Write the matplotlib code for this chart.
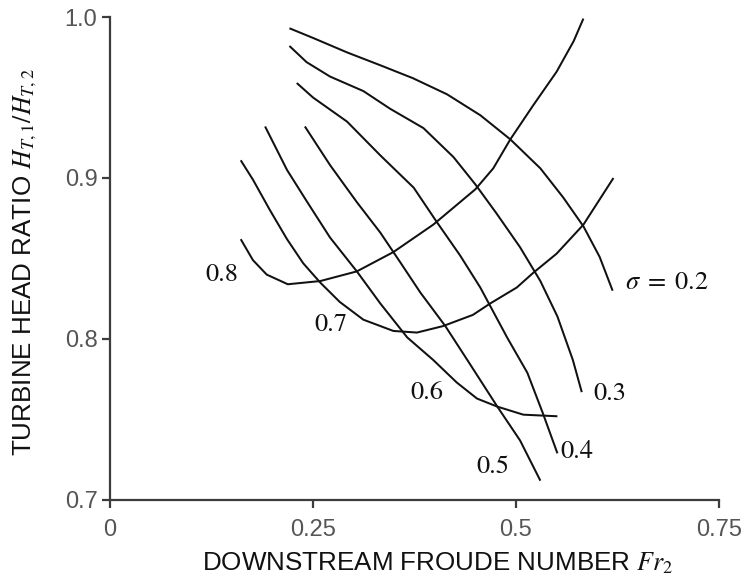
import matplotlib
matplotlib.use("Agg")
import matplotlib.pyplot as plt

plt.rcParams['mathtext.fontset'] = 'stix'

# ---- data ----
s02_x = [0.221, 0.250, 0.292, 0.333, 0.373, 0.415, 0.456, 0.493, 0.530, 0.558, 0.583, 0.603, 0.619]
s02_y = [0.993, 0.987, 0.978, 0.970, 0.962, 0.952, 0.939, 0.924, 0.906, 0.888, 0.870, 0.851, 0.830]

s03_x = [0.221, 0.242, 0.271, 0.312, 0.345, 0.386, 0.423, 0.450, 0.476, 0.505, 0.530, 0.551, 0.570, 0.581]
s03_y = [0.982, 0.972, 0.963, 0.954, 0.943, 0.931, 0.913, 0.896, 0.878, 0.857, 0.836, 0.814, 0.787, 0.767]

s04_x = [0.230, 0.250, 0.292, 0.333, 0.374, 0.402, 0.431, 0.456, 0.489, 0.514, 0.533, 0.551]
s04_y = [0.959, 0.950, 0.935, 0.914, 0.894, 0.873, 0.852, 0.832, 0.801, 0.779, 0.754, 0.729]

s05_x = [0.240, 0.271, 0.304, 0.333, 0.357, 0.382, 0.413, 0.440, 0.477, 0.505, 0.530]
s05_y = [0.932, 0.908, 0.885, 0.866, 0.848, 0.829, 0.808, 0.787, 0.758, 0.737, 0.712]

c06_x = [0.191, 0.218, 0.243, 0.271, 0.304, 0.333, 0.366, 0.398, 0.427, 0.452, 0.477, 0.509, 0.551]
c06_y = [0.932, 0.905, 0.885, 0.863, 0.842, 0.822, 0.801, 0.787, 0.773, 0.763, 0.758, 0.753, 0.752]

c07_x = [0.161, 0.176, 0.197, 0.218, 0.238, 0.259, 0.283, 0.312, 0.349, 0.378, 0.410,
         0.447, 0.468, 0.501, 0.521, 0.550, 0.583, 0.620]
c07_y = [0.911, 0.899, 0.880, 0.862, 0.847, 0.835, 0.823, 0.812, 0.805, 0.804, 0.808,
         0.815, 0.822, 0.832, 0.841, 0.853, 0.871, 0.900]

c08_x = [0.161, 0.176, 0.193, 0.219, 0.259, 0.304, 0.349, 0.398, 0.450, 0.472, 0.493,
         0.521, 0.550, 0.571, 0.583]
c08_y = [0.862, 0.849, 0.840, 0.834, 0.836, 0.842, 0.854, 0.871, 0.893, 0.906, 0.924,
         0.945, 0.966, 0.985, 0.999]

curves = [(s02_x, s02_y), (s03_x, s03_y), (s04_x, s04_y), (s05_x, s05_y),
          (c06_x, c06_y), (c07_x, c07_y), (c08_x, c08_y)]

label_texts = [r'$\sigma\;=\;0.2$', '0.3', '0.4', '0.5', '0.6', '0.7', '0.8']
label_x = [0.686, 0.616, 0.575, 0.472, 0.390, 0.272, 0.138]
label_y = [0.835, 0.766, 0.730, 0.7205, 0.7665, 0.809, 0.840]

x_ticks = [0, 0.25, 0.5, 0.75]
x_tick_labels = ['0', '0.25', '0.5', '0.75']
y_ticks = [0.7, 0.8, 0.9, 1.0]
y_tick_labels = ['0.7', '0.8', '0.9', '1.0']

# ---- figure ----
fig = plt.figure(figsize=(7.45, 5.84), dpi=100)
ax = fig.add_axes([110/745, 84/584, 609/745, 483/584])

for cx, cy in curves:
    ax.plot(cx, cy, color='#111111', lw=1.45, solid_capstyle='butt', solid_joinstyle='round')

for t, lx, ly in zip(label_texts, label_x, label_y):
    ax.text(lx, ly, t, ha='center', va='center', fontsize=19,
            family='STIXGeneral', color='#111111')

ax.set_xlim(0, 0.75)
ax.set_ylim(0.7, 1.0)
ax.set_xticks(x_ticks)
ax.set_xticklabels(x_tick_labels)
ax.set_yticks(y_ticks)
ax.set_yticklabels(y_tick_labels)

for s in ['top', 'right']:
    ax.spines[s].set_visible(False)
for s in ['left', 'bottom']:
    ax.spines[s].set_color('#3c3c3c')
    ax.spines[s].set_linewidth(1.6)

ax.tick_params(axis='both', direction='out', length=6, width=1.6, color='#3c3c3c',
               labelcolor='#555555', labelsize=17)
ax.tick_params(axis='x', pad=8)
ax.tick_params(axis='y', pad=3)
for lab in ax.get_xticklabels() + ax.get_yticklabels():
    lab.set_family('Liberation Sans')

fig.text(438/745, 1 - 563/584, 'DOWNSTREAM FROUDE NUMBER $Fr_2$', ha='center', va='center',
         fontsize=18.7, family='Liberation Sans', color='#111111')
fig.text(25/745, 1 - 262/584, 'TURBINE HEAD RATIO $H_{T,1}/H_{T,2}$', ha='center', va='center',
         rotation=90, fontsize=18.7, family='Liberation Sans', color='#111111')

fig.savefig('out.png', dpi=100)
